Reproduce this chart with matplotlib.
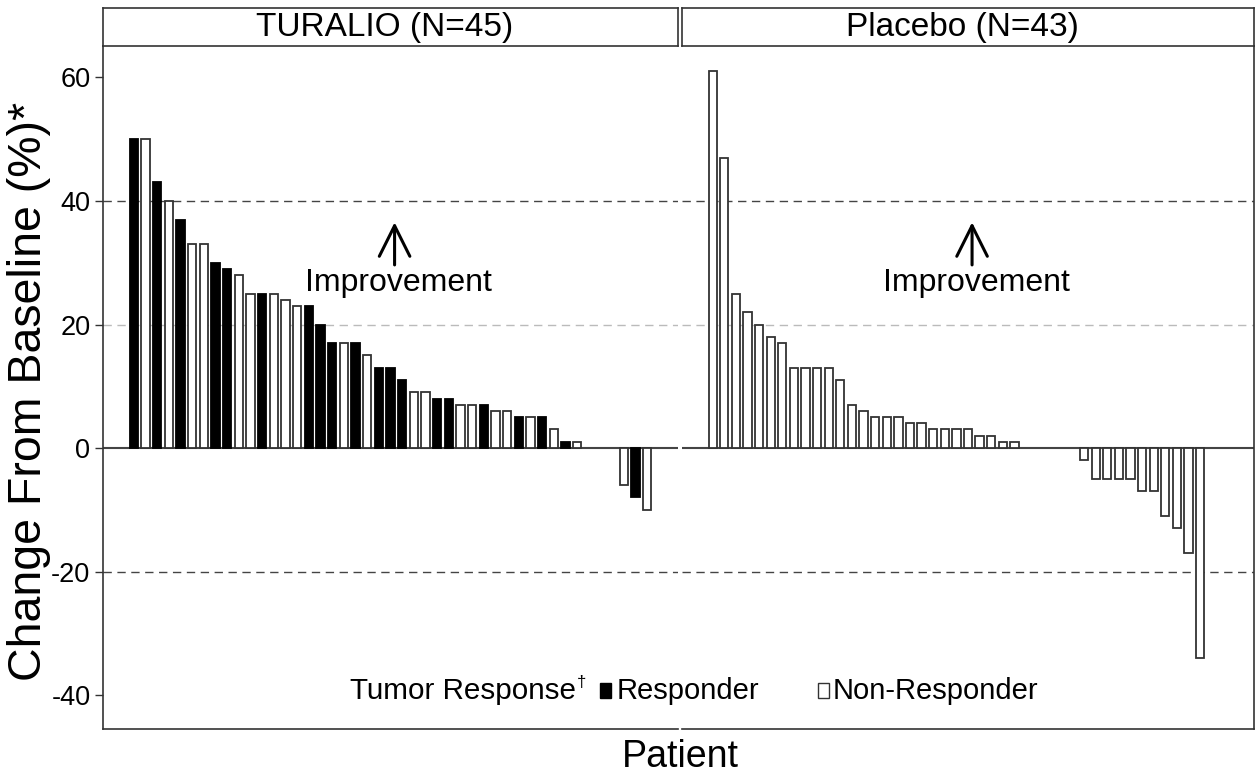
import numpy as np
import matplotlib
matplotlib.use("Agg")
import matplotlib.pyplot as plt
from matplotlib.patches import Rectangle

plt.rcParams['font.family'] = ['Liberation Sans', 'DejaVu Sans']

# data (percent change from baseline, sorted per arm)
turalio_vals = [50, 50, 43, 40, 37, 33, 33, 30, 29, 28, 25, 25, 25, 24, 23, 23, 20, 17, 17, 17,
                15, 13, 13, 11, 9, 9, 8, 8, 7, 7, 7, 6, 6, 5, 5, 5, 3, 1, 1, 0, 0, 0, -6, -8, -10]
# 1 = responder, 0 = non-responder
turalio_resp = [1, 0, 1, 0, 1, 0, 0, 1, 1, 0, 0, 1, 0, 0, 0, 1, 1, 1, 0, 1,
                0, 1, 1, 1, 0, 0, 1, 1, 0, 0, 1, 0, 0, 1, 0, 1, 0, 1, 0, 0, 0, 0, 0, 1, 0]
placebo_vals = [61, 47, 25, 22, 20, 18, 17, 13, 13, 13, 13, 11, 7, 6, 5, 5, 5, 4, 4, 3, 3, 3, 3,
                2, 2, 1, 1, 0, 0, 0, 0, 0, -2, -5, -5, -5, -5, -7, -7, -11, -13, -17, -34]
placebo_resp = [0] * len(placebo_vals)

panel_titles = ["TURALIO (N=45)", "Placebo (N=43)"]
yticks = [-40, -20, 0, 20, 40, 60]

W, H = 1260, 775
fig = plt.figure(figsize=(W / 100, H / 100), dpi=100)


def fx(px):
    return px / W


def fy(py):
    return 1 - py / H


edge = '#333333'
top_px, bot_px = 46, 729
panels = [(103, 678), (682, 1254)]
series = [(turalio_vals, turalio_resp), (placebo_vals, placebo_resp)]

axes = []
for k, ((x0, x1), (vals, resp)) in enumerate(zip(panels, series)):
    ax = fig.add_axes([fx(x0), fy(bot_px), fx(x1 - x0), fy(top_px) - fy(bot_px)])
    axes.append(ax)
    vals = np.array(vals, dtype=float)
    resp = np.array(resp)
    x = np.arange(len(vals))
    keep = vals != 0
    for r, fc in [(1, 'black'), (0, 'white')]:
        m = keep & (resp == r)
        ax.bar(x[m], vals[m], width=0.71, color=fc,
               edgecolor='black' if r else edge, linewidth=1.3, zorder=3)

    ax.axhline(0, color='#444444', lw=1.5, zorder=2)
    ax.axhline(40, color='#444444', lw=1, ls=(0, (6, 4)), zorder=1)
    ax.axhline(-20, color='#444444', lw=1, ls=(0, (6, 4)), zorder=1)
    ax.axhline(20, color='#bbbbbb', lw=1, ls=(0, (6, 4)), zorder=1)

    ax.set_xlim(-2.65, 46.65)
    ax.set_ylim(-45.5, 65.1)
    ax.set_xticks([])
    for s in ax.spines.values():
        s.set_color(edge)
        s.set_linewidth(1.2)
    ax.spines['top'].set_visible(False)
    if k == 0:
        ax.spines['right'].set_visible(False)
        ax.set_yticks(yticks)
        ax.set_yticklabels([str(t) for t in yticks])
        ax.tick_params(axis='y', labelsize=19.5, length=6, width=1, color=edge, pad=3)
    else:
        ax.spines['left'].set_visible(False)
        ax.set_yticks([])

    ax.annotate('', xy=(22.35, 37.0), xytext=(22.35, 29.2),
                arrowprops=dict(arrowstyle='->', lw=2.2, color='black', mutation_scale=55))
    ax.text(22.7, 26.7, 'Improvement', ha='center', va='center', fontsize=23)

    # facet strip
    sax = fig.add_axes([fx(x0), fy(top_px), fx(x1 - x0), fy(8) - fy(top_px)])
    sax.set_xticks([])
    sax.set_yticks([])
    for s in sax.spines.values():
        s.set_color(edge)
        s.set_linewidth(1.2)
    sax.text(0.49, 0.48, panel_titles[k], ha='center', va='center', fontsize=24,
             transform=sax.transAxes)

# axis titles
fig.text(fx(29), fy(391), 'Change From Baseline (%)*', rotation=90,
         ha='center', va='center', fontsize=33.5)
fig.text(fx(680), fy(757), 'Patient', ha='center', va='center', fontsize=27)

# legend strip at the bottom
ly = 691
t = fig.text(fx(350), fy(ly), 'Tumor Response', ha='left', va='center', fontsize=21.3)
r = fig.canvas.get_renderer()
bb = t.get_window_extent(renderer=r)
fig.text(bb.x1 / W + fx(1), fy(682), '\u2020', ha='left', va='center', fontsize=12)
fig.patches.append(Rectangle((fx(600), fy(698)), fx(11), fy(683) - fy(698),
                             transform=fig.transFigure, facecolor='black',
                             edgecolor='black', lw=1))
fig.text(fx(617), fy(ly), 'Responder', ha='left', va='center', fontsize=21)
fig.patches.append(Rectangle((fx(818), fy(698)), fx(11), fy(683) - fy(698),
                             transform=fig.transFigure, facecolor='white',
                             edgecolor=edge, lw=1))
fig.text(fx(833), fy(ly), 'Non-Responder', ha='left', va='center', fontsize=21)

fig.savefig('out.png', dpi=100)
